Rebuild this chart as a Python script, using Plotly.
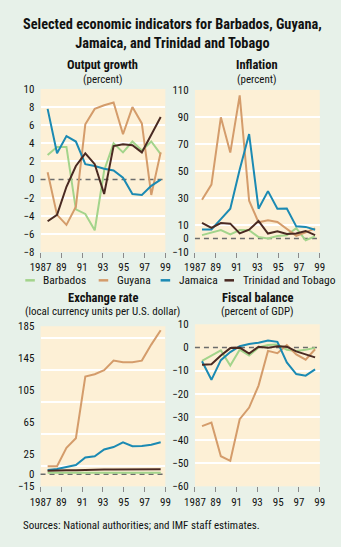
import plotly.graph_objects as go

# ---- data -------------------------------------------------------------
years = [1987, 1988, 1989, 1990, 1991, 1992, 1993, 1994, 1995, 1996, 1997, 1998, 1999]
countries = ["Barbados", "Guyana", "Jamaica", "Trinidad and Tobago"]
colors = ["#a3d48b", "#d49c6b", "#1b8ab3", "#4a2a22"]

growth_barbados = [2.7, 3.6, 3.6, -3.3, -3.8, -5.6, 1.0, 4.0, 3.0, 4.2, 3.2, 4.2, 2.8]
growth_guyana = [0.8, -3.9, -5.0, -3.0, 6.1, 7.8, 8.2, 8.5, 5.0, 8.0, 6.2, -1.7, 3.0]
growth_jamaica = [7.8, 2.9, 4.8, 4.2, 1.7, 1.5, 1.2, 1.0, 0.2, -1.6, -1.7, -0.7, 0.0]
growth_tt = [-4.6, -3.9, -0.8, 1.5, 2.9, 1.7, -1.6, 3.7, 3.9, 3.8, 3.0, 4.9, 6.9]

infl_barbados = [2.5, 4.6, 6.2, 3.1, 6.3, 6.1, 1.1, 0.1, 1.9, 2.4, 7.7, -1.3, 1.6]
infl_guyana = [28.7, 39.9, 89.7, 63.6, 106.0, 28.0, 12.0, 13.5, 12.2, 7.1, 2.0, 4.5, 7.5]
infl_jamaica = [6.7, 6.7, 14.3, 22.0, 51.1, 77.3, 22.1, 35.1, 22.0, 22.2, 9.0, 8.6, 6.5]
infl_tt = [11.5, 7.8, 11.4, 11.0, 3.8, 6.5, 13.0, 3.7, 5.3, 3.3, 3.7, 5.6, 2.5]

er_barbados = [2.0, 2.0, 2.0, 2.0, 2.0, 2.0, 2.0, 2.0, 2.0, 2.0, 2.0, 2.0, 2.0]
er_guyana = [10.0, 10.0, 33.0, 45.0, 122.0, 125.0, 130.0, 142.0, 140.0, 140.0, 142.0, 162.0, 180.0]
er_jamaica = [5.5, 6.5, 9.0, 11.5, 21.0, 22.5, 31.0, 34.0, 40.0, 35.0, 35.5, 37.0, 40.0]
er_tt = [4.5, 5.0, 5.0, 5.0, 5.5, 5.5, 6.0, 6.0, 6.0, 6.2, 6.3, 6.3, 6.3]

fb_barbados = [-5.8, -3.5, -1.3, -7.8, -1.0, -3.5, 0.0, 1.0, 1.2, -1.0, -1.5, -1.0, -0.2]
fb_guyana = [-34.0, -32.5, -47.0, -49.0, -31.0, -26.0, -16.5, -1.5, -2.5, 1.0, -3.0, -5.3, -0.8]
fb_jamaica = [-6.0, -14.0, -5.5, -2.0, 0.5, 1.5, 2.0, 3.0, 2.4, -6.5, -11.5, -12.2, -9.5]
fb_tt = [-7.5, -7.3, -3.5, -0.3, -0.1, -2.7, 0.3, -0.2, 0.5, 0.3, -1.7, -3.0, -4.3]

x_ticktext = ["1987", "89", "91", "93", "95", "97", "99"]

panels = [
    dict(title="Output growth", sub="(percent)",
         series=[growth_barbados, growth_guyana, growth_jamaica, growth_tt],
         yrange=[-8, 10], ytickvals=[-8, -6, -4, -2, 0, 2, 4, 6, 8, 10],
         grid=[-6, -4, -2, 2, 4, 6, 8]),
    dict(title="Inflation", sub="(percent)",
         series=[infl_barbados, infl_guyana, infl_jamaica, infl_tt],
         yrange=[-10, 110], ytickvals=[-10, 0, 10, 30, 50, 70, 90, 110],
         grid=[10, 30, 50, 70, 90]),
    dict(title="Exchange rate", sub="(local currency units per U.S. dollar)",
         series=[er_barbados, er_guyana, er_jamaica, er_tt],
         yrange=[-15, 185], ytickvals=[-15, 0, 25, 65, 105, 145, 185],
         grid=[10, 50, 90, 130, 170]),
    dict(title="Fiscal balance", sub="(percent of GDP)",
         series=[fb_barbados, fb_guyana, fb_jamaica, fb_tt],
         yrange=[-60, 10], ytickvals=[-60, -50, -40, -30, -20, -10, 0, 10],
         grid=[-50, -40, -30, -20, -10]),
]

# annual observations sit inside a slightly wider span than the labelled years
XR = [1986.25, 1999.5]
x_tickvals = [XR[0] + (XR[1] - XR[0]) * k / 6 for k in range(7)]

# ---- page geometry (pixels) -----------------------------------------
W, H = 341, 547
boxes = [(31, 162, 85, 252), (193, 324, 86, 252), (31, 162, 328, 492), (193, 324, 326, 492)]
title_y = [(60, 75), (60, 75), (299, 313), (299, 313)]

FONT = "Liberation Sans Narrow, Arial Narrow, Roboto Condensed, Liberation Sans, sans-serif"
PAGE_BG = "#e7f1e9"
PLOT_BG = "#fdf0d6"

def px_x(v):
    return v / W

def px_y(v):
    return 1 - v / H

fig = go.Figure()
layout = dict(
    width=W, height=H, margin=dict(l=0, r=0, t=0, b=0),
    paper_bgcolor=PAGE_BG, plot_bgcolor=PLOT_BG, showlegend=False,
    font=dict(family=FONT, size=11, color="#111"),
)
shapes, annotations = [], []

for i, p in enumerate(panels):
    n = i + 1
    sfx = "" if n == 1 else str(n)
    x0, x1, y0, y1 = boxes[i]
    layout["xaxis" + sfx] = dict(
        domain=[px_x(x0), px_x(x1)], anchor="y" + sfx, range=XR,
        tickvals=x_tickvals, ticktext=x_ticktext, ticks="outside", ticklen=5,
        tickcolor="#8a8a8a", tickwidth=1, showgrid=False, zeroline=False,
        showline=False, tickfont=dict(size=11, color="#111"), fixedrange=True,
    )
    layout["yaxis" + sfx] = dict(
        domain=[px_y(y1), px_y(y0)], anchor="x" + sfx, range=p["yrange"],
        tickvals=p["ytickvals"], showgrid=False, zeroline=False, showline=False,
        ticks="outside", ticklen=3, tickcolor="rgba(0,0,0,0)",
        minor=dict(tickvals=p["grid"], showgrid=True, gridcolor="white",
                   gridwidth=1.5, ticks=""),
        tickfont=dict(size=11, color="#111"), fixedrange=True,
    )
    for name, col, vals in zip(countries, colors, p["series"]):
        fig.add_trace(go.Scatter(
            x=years, y=vals, mode="lines", name=name,
            line=dict(color=col, width=2),
            xaxis="x" + sfx, yaxis="y" + sfx, hoverinfo="skip",
        ))
    shapes.append(dict(
        type="line", xref="x" + sfx + " domain", yref="y" + sfx,
        x0=0, x1=1, y0=0, y1=0, layer="below",
        line=dict(color="#6c6c6c", width=1.5, dash="5px,4px"),
    ))
    cx = (x0 + x1) / 2
    annotations.append(dict(
        text="<b>" + p["title"] + "</b>", xref="paper", yref="paper",
        x=px_x(cx), y=px_y(title_y[i][0]), xanchor="center", yanchor="middle",
        showarrow=False, font=dict(size=12.5, color="#111"),
    ))
    annotations.append(dict(
        text=p["sub"], xref="paper", yref="paper",
        x=px_x(cx), y=px_y(title_y[i][1]), xanchor="center", yanchor="middle",
        showarrow=False, font=dict(size=11, color="#111"),
    ))

# main title
annotations.append(dict(
    text="<b>Selected economic indicators for Barbados, Guyana,<br>Jamaica, and Trinidad and Tobago</b>",
    xref="paper", yref="paper", x=px_x(169), y=px_y(28), xanchor="center",
    yanchor="middle", showarrow=False, align="center",
    font=dict(size=14.3, color="#111"),
))

# legend row
legend_x = [15, 92, 157, 224]
legend_y = 281
for name, col, lx in zip(countries, colors, legend_x):
    shapes.append(dict(
        type="line", xref="paper", yref="paper",
        x0=px_x(lx), x1=px_x(lx + 10), y0=px_y(legend_y), y1=px_y(legend_y),
        line=dict(color=col, width=2.5),
    ))
    annotations.append(dict(
        text=name, xref="paper", yref="paper", x=px_x(lx + 17), y=px_y(legend_y),
        xanchor="left", yanchor="middle", showarrow=False,
        font=dict(size=11.5, color="#111"),
    ))

# source note
annotations.append(dict(
    text="Sources: National authorities; and IMF staff estimates.",
    xref="paper", yref="paper", x=px_x(10), y=px_y(532), xanchor="left",
    yanchor="middle", showarrow=False, font=dict(size=11, color="#111"),
))

layout["shapes"] = shapes
layout["annotations"] = annotations
fig.update_layout(**layout)
fig.write_html("out.html")
